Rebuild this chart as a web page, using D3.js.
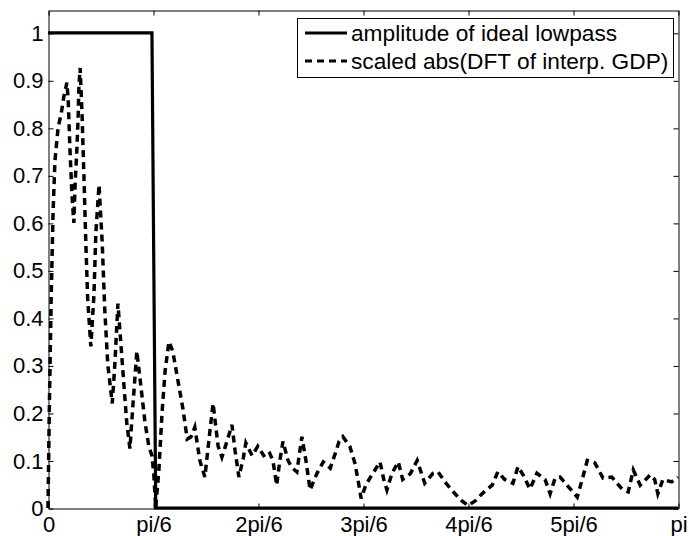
<!DOCTYPE html>
<html>
<head>
<meta charset="utf-8">
<script src="https://cdn.jsdelivr.net/npm/d3@7"></script>
<style>
  body { margin: 0; background: #fff; }
  svg text { font-family: "Liberation Sans", Arial, Helvetica, sans-serif; font-size: 22px; fill: #000; }
</style>
</head>
<body>
<div id="chart"></div>
<script>
// frequency in units of pi, amplitude

// ideal lowpass (cutoff near pi/6)
let lowpassFreq = [0, 0.165, 0.171, 1];
let lowpassAmp = [1, 1, 0, 0];

// scaled abs(DFT of interpolated GDP)
let dftFreq = [
  0, 0.002, 0.005, 0.008, 0.011, 0.016, 0.021, 0.025, 0.030, 0.032,
  0.035, 0.038, 0.041, 0.043, 0.046, 0.048, 0.049, 0.051, 0.054, 0.057,
  0.060, 0.063, 0.068, 0.073, 0.076, 0.081, 0.086, 0.090, 0.095, 0.102,
  0.106, 0.111, 0.116, 0.121, 0.125, 0.130, 0.135, 0.141, 0.148, 0.154,
  0.160, 0.165, 0.168, 0.171, 0.176, 0.181, 0.186, 0.192, 0.198, 0.206,
  0.214, 0.221, 0.227, 0.233, 0.241, 0.249, 0.256, 0.262, 0.270, 0.276,
  0.284, 0.292, 0.297, 0.303, 0.310, 0.314, 0.324, 0.333, 0.344, 0.352,
  0.357, 0.363, 0.368, 0.373, 0.381, 0.387, 0.395, 0.403, 0.410, 0.416,
  0.427, 0.437, 0.448, 0.456, 0.462, 0.468, 0.479, 0.487, 0.492, 0.497,
  0.505, 0.519, 0.527, 0.533, 0.538, 0.546, 0.556, 0.563, 0.575, 0.586,
  0.590, 0.598, 0.611, 0.619, 0.633, 0.646, 0.657, 0.667, 0.678, 0.689,
  0.705, 0.714, 0.725, 0.738, 0.746, 0.754, 0.765, 0.776, 0.789, 0.797,
  0.805, 0.813, 0.829, 0.840, 0.848, 0.856, 0.868, 0.881, 0.895, 0.911,
  0.921, 0.929, 0.940, 0.956, 0.963, 0.968, 0.976, 0.990, 1.0
];
let dftAmp = [
  0, 0.20, 0.44, 0.62, 0.73, 0.80, 0.83, 0.865, 0.895, 0.86,
  0.75, 0.66, 0.60, 0.68, 0.76, 0.83, 0.886, 0.926, 0.83, 0.70,
  0.56, 0.44, 0.34, 0.45, 0.58, 0.68, 0.56, 0.42, 0.30, 0.22,
  0.30, 0.43, 0.34, 0.25, 0.18, 0.125, 0.22, 0.33, 0.25, 0.18,
  0.13, 0.11, 0.07, 0.0, 0.08, 0.20, 0.29, 0.35, 0.33, 0.27,
  0.21, 0.145, 0.15, 0.17, 0.10, 0.065, 0.15, 0.22, 0.13, 0.107,
  0.14, 0.175, 0.12, 0.065, 0.105, 0.137, 0.11, 0.13, 0.107, 0.115,
  0.10, 0.048, 0.10, 0.14, 0.10, 0.085, 0.076, 0.15, 0.095, 0.038,
  0.073, 0.097, 0.084, 0.115, 0.14, 0.15, 0.13, 0.095, 0.06, 0.02,
  0.05, 0.08, 0.097, 0.06, 0.038, 0.073, 0.097, 0.06, 0.072, 0.10,
  0.084, 0.052, 0.073, 0.076, 0.05, 0.03, 0.015, 0.005, 0.015, 0.03,
  0.048, 0.076, 0.06, 0.052, 0.087, 0.07, 0.04, 0.073, 0.06, 0.03,
  0.063, 0.065, 0.04, 0.023, 0.06, 0.10, 0.095, 0.063, 0.065, 0.04,
  0.034, 0.08, 0.048, 0.07, 0.06, 0.03, 0.06, 0.055, 0.065
];

let xTicks = [0, 1 / 6, 2 / 6, 3 / 6, 4 / 6, 5 / 6, 1];
let xTickLabels = ["0", "pi/6", "2pi/6", "3pi/6", "4pi/6", "5pi/6", "pi"];
let yTicks = [0, 0.1, 0.2, 0.3, 0.4, 0.5, 0.6, 0.7, 0.8, 0.9, 1];
let yTickLabels = ["0", "0.1", "0.2", "0.3", "0.4", "0.5", "0.6", "0.7", "0.8", "0.9", "1"];

let seriesNames = ["amplitude of ideal lowpass", "scaled abs(DFT of interp. GDP)"];

let size = [689, 536];
let plotLeft = 48, plotRight = 678, plotTop = 10, plotBottom = 508;

let svg = d3.select("#chart")
  .append("svg")
  .attr("width", size[0])
  .attr("height", size[1]);

svg.append("rect")
  .attr("width", size[0])
  .attr("height", size[1])
  .attr("fill", "#fff");

let xScale = d3.scaleLinear().domain([0, 1]).range([plotLeft, plotRight]);
let yScale = d3.scaleLinear().domain([0, 1.048]).range([plotBottom, plotTop]);

// axes with inward ticks on all four sides
let g = svg.append("g").attr("transform", "translate(0.5,0.5)");

let xAxis = d3.axisBottom(xScale)
  .tickValues(xTicks)
  .tickFormat((d, i) => xTickLabels[i])
  .tickSizeInner(-5)
  .tickSizeOuter(0)
  .tickPadding(8);
g.append("g")
  .attr("transform", "translate(0," + plotBottom + ")")
  .call(xAxis);

g.append("g")
  .attr("transform", "translate(0," + plotTop + ")")
  .call(d3.axisTop(xScale).tickValues(xTicks).tickFormat("").tickSizeInner(-5).tickSizeOuter(0));

let yAxis = d3.axisLeft(yScale)
  .tickValues(yTicks)
  .tickFormat((d, i) => yTickLabels[i])
  .tickSizeInner(-5)
  .tickSizeOuter(0)
  .tickPadding(5);
g.append("g")
  .attr("transform", "translate(" + plotLeft + ",0)")
  .call(yAxis);

g.append("g")
  .attr("transform", "translate(" + plotRight + ",0)")
  .call(d3.axisRight(yScale).tickValues(yTicks).tickFormat("").tickSizeInner(-5).tickSizeOuter(0));

g.selectAll(".domain, .tick line").attr("stroke", "#000").attr("stroke-width", 1);
g.selectAll("g").attr("font-size", null).attr("font-family", null);

// lines
let lineCreator = d3.line()
  .x((d) => xScale(d[0]))
  .y((d) => yScale(d[1]));

let lowpass = lowpassFreq.map((f, i) => [f, lowpassAmp[i]]);
let dft = dftFreq.map((f, i) => [f, dftAmp[i]]);

let plot = svg.append("g");

plot.append("path")
  .datum(dft)
  .attr("fill", "none")
  .attr("stroke", "#000")
  .attr("stroke-width", 3.5)
  .attr("stroke-dasharray", "7,5")
  .attr("d", lineCreator);

plot.append("path")
  .datum(lowpass)
  .attr("fill", "none")
  .attr("stroke", "#000")
  .attr("stroke-width", 3.2)
  .attr("d", lineCreator);

// legend
let legend = svg.append("g");
legend.append("rect")
  .attr("x", 297.5)
  .attr("y", 18.5)
  .attr("width", 376)
  .attr("height", 59)
  .attr("fill", "#fff")
  .attr("stroke", "#000")
  .attr("stroke-width", 1);

let dashes = [null, "7,5"];
seriesNames.forEach((name, i) => {
  let y = 33 + i * 28;
  legend.append("line")
    .attr("x1", 305)
    .attr("x2", 347)
    .attr("y1", y)
    .attr("y2", y)
    .attr("stroke", "#000")
    .attr("stroke-width", 3.2)
    .attr("stroke-dasharray", dashes[i]);
  legend.append("text")
    .attr("x", 351)
    .attr("y", y + 8)
    .style("font-size", "22.7px")
    .text(name);
});
</script>
</body>
</html>
